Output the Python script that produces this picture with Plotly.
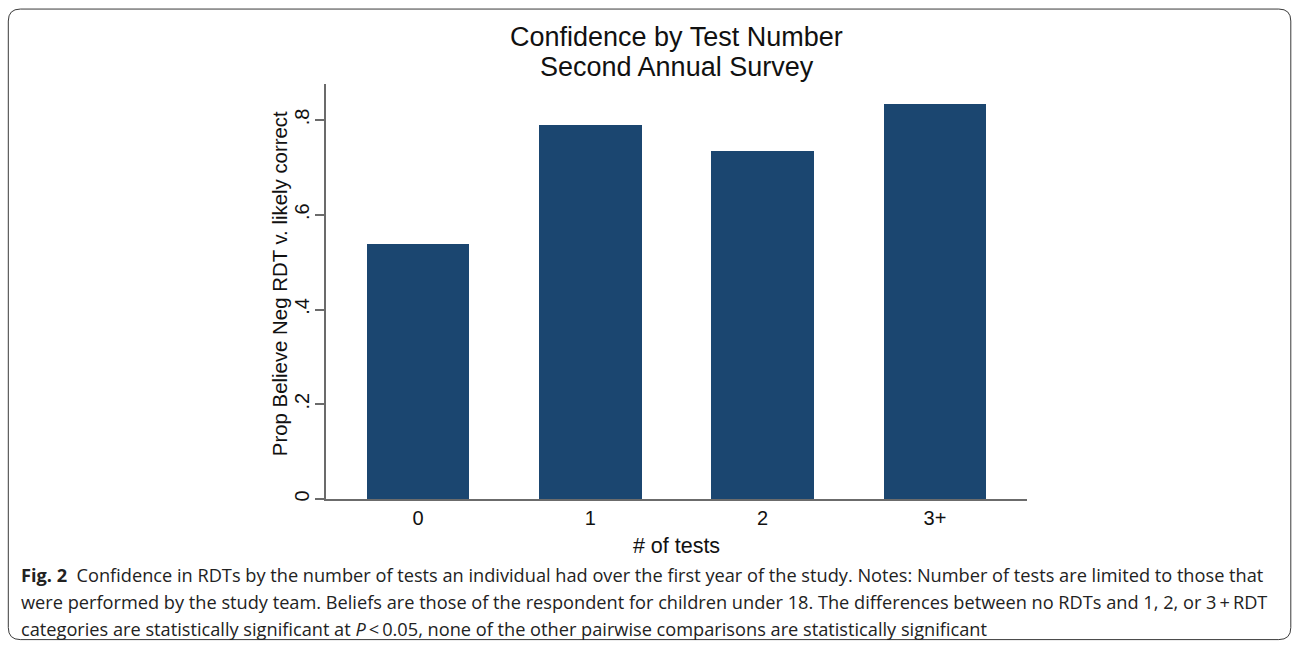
import plotly.graph_objects as go

# values
categories = ["0", "1", "2", "3+"]
prop_values = [0.539, 0.789, 0.734, 0.833]
y_tickvals = [0, 0.2, 0.4, 0.6, 0.8]
y_ticktext = ["0", ".2", ".4", ".6", ".8"]
title_lines = ["Confidence by Test Number", "Second Annual Survey"]

W, H = 1292, 647
L, R, T, B = 325.7, 1026.7, 84.0, 499.3
PW, PH = R - L, B - T


def px(x):
    return (x - L) / PW


def py(y):
    return (B - y) / PH


BAR = "#1b4670"
AXIS = "#6b6b6b"
CHART_FONT = "Liberation Sans, Arial, sans-serif"
CAP_FONT = "Open Sans, sans-serif"

fig = go.Figure()
fig.add_trace(go.Bar(
    x=list(range(len(categories))), y=prop_values, width=0.594,
    marker=dict(color=BAR, line=dict(width=0)),
    hoverinfo="skip"
))

# rounded frame around the whole figure
x0, x1, y0, y1, r = 8.0, 1290.5, 9.0, 640.0, 12.0
path = (
    f"M {px(x0 + r)},{py(y0)} L {px(x1 - r)},{py(y0)} "
    f"Q {px(x1)},{py(y0)} {px(x1)},{py(y0 + r)} "
    f"L {px(x1)},{py(y1 - r)} Q {px(x1)},{py(y1)} {px(x1 - r)},{py(y1)} "
    f"L {px(x0 + r)},{py(y1)} Q {px(x0)},{py(y1)} {px(x0)},{py(y1 - r)} "
    f"L {px(x0)},{py(y0 + r)} Q {px(x0)},{py(y0)} {px(x0 + r)},{py(y0)} Z"
)
fig.add_shape(type="path", path=path, xref="paper", yref="paper",
              line=dict(color="#3a3a3a", width=1))

caption_lines = [
    "<b>Fig. 2</b>  Confidence in RDTs by the number of tests an individual had over the first year of the study. "
    "Notes: Number of tests are limited to those that",
    "were performed by the study team. Beliefs are those of the respondent for children under 18. "
    "The differences between no RDTs and 1, 2, or 3\u2009+\u2009RDT",
    "categories are statistically significant at <i>P</i>\u2009<\u20090.05, none of the other pairwise "
    "comparisons are statistically significant",
]
cap_y = [575, 602, 629]
for txt, yy in zip(caption_lines, cap_y):
    fig.add_annotation(text=txt, xref="paper", yref="paper", x=px(19), y=py(yy),
                       xanchor="left", yanchor="middle", showarrow=False,
                       font=dict(family=CAP_FONT, size=18.2, color="#222222"))

for txt, yy in zip(title_lines, [37, 67]):
    fig.add_annotation(text=txt, xref="paper", yref="paper", x=0.5, y=py(yy),
                       xanchor="center", yanchor="middle", showarrow=False,
                       font=dict(family=CHART_FONT, size=27, color="#111111"))

# y-axis title placed directly so it sits where the reference has it
fig.add_annotation(text="Prop Believe Neg RDT v. likely correct", textangle=-90,
                   xref="paper", yref="paper", x=px(280), y=py(284),
                   xanchor="center", yanchor="middle", showarrow=False,
                   font=dict(family=CHART_FONT, size=20.4, color="#111111"))

fig.update_layout(
    width=W, height=H, paper_bgcolor="white", plot_bgcolor="white",
    margin=dict(l=L, r=W - R, t=T, b=H - B, pad=0),
    showlegend=False, bargap=0,
    font=dict(family=CHART_FONT, color="#111111"),
    xaxis=dict(
        range=[-0.534, 3.534], tickvals=list(range(len(categories))), ticktext=categories,
        showgrid=False, zeroline=False, showline=True, linecolor=AXIS, linewidth=2,
        ticks="", tickfont=dict(size=20, color="#111111"),
        title=dict(text="# of tests", font=dict(size=21.5, color="#111111"), standoff=10),
    ),
    yaxis=dict(
        range=[0, 0.876], tickvals=y_tickvals, ticktext=y_ticktext,
        showgrid=False, zeroline=False, showline=True, linecolor=AXIS, linewidth=2,
        ticks="outside", ticklen=9, tickwidth=2, tickcolor=AXIS, tickangle=-90,
        tickfont=dict(size=20, color="#111111"), ticklabelstandoff=-2,
    ),
)

fig.write_html("out.html", config={"displayModeBar": False},
               post_script="document.body.style.margin='0';")
